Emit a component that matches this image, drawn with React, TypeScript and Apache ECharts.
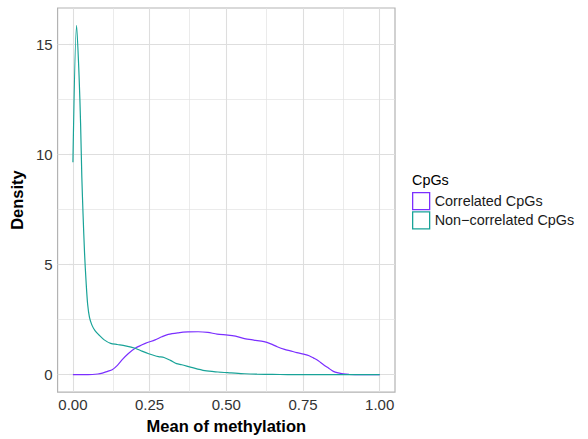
import React, { useEffect, useRef } from "react";
import * as echarts from "echarts";

// Density estimates of mean methylation, read along x in [0, 1]
const correlatedX = [0, 0.05, 0.081, 0.096, 0.113, 0.128, 0.145, 0.16, 0.18, 0.203, 0.236, 0.268, 0.29, 0.311, 0.343, 0.375, 0.408, 0.44, 0.47, 0.505, 0.53, 0.559, 0.59, 0.623, 0.645, 0.666, 0.69, 0.709, 0.73, 0.752, 0.77, 0.785, 0.8, 0.817, 0.833, 0.849, 0.865, 0.881, 0.9, 0.92, 0.95, 1.0];
const correlatedY = [0, 0, 0.03, 0.07, 0.15, 0.22, 0.42, 0.67, 0.95, 1.2, 1.42, 1.58, 1.72, 1.83, 1.9, 1.94, 1.95, 1.92, 1.84, 1.8, 1.75, 1.64, 1.57, 1.5, 1.4, 1.27, 1.15, 1.08, 1.0, 0.93, 0.86, 0.75, 0.63, 0.45, 0.3, 0.15, 0.08, 0.04, 0.015, 0.005, 0, 0];

const nonCorrelatedX = [0, 0.012, 0.02, 0.025, 0.029, 0.033, 0.038, 0.043, 0.048, 0.054, 0.062, 0.072, 0.085, 0.102, 0.123, 0.145, 0.171, 0.203, 0.225, 0.247, 0.265, 0.279, 0.297, 0.318, 0.338, 0.355, 0.386, 0.43, 0.473, 0.516, 0.56, 0.6, 0.65, 0.7, 0.8, 0.9, 1.0];
const nonCorrelatedY = [9.65, 15.87, 13.6, 11.4, 9.0, 7.3, 5.5, 4.2, 3.2, 2.6, 2.25, 2.0, 1.8, 1.58, 1.42, 1.37, 1.31, 1.2, 1.07, 0.95, 0.87, 0.82, 0.78, 0.65, 0.5, 0.45, 0.33, 0.18, 0.12, 0.08, 0.04, 0.02, 0.01, 0.004, 0, 0, 0];

const seriesNames = ["Correlated CpGs", "Non\u2212correlated CpGs"];
const seriesColors = ["#7B2FFF", "#19A398"];
const legendTitle = "CpGs";

// Axis breaks
const xMajor = [0, 0.25, 0.5, 0.75, 1];
const xMinor = [0.125, 0.375, 0.625, 0.875];
const yMajor = [0, 5, 10, 15];
const yMinor = [2.5, 7.5, 12.5];
const xLabels = ["0.00", "0.25", "0.50", "0.75", "1.00"];

const FONT = "'Liberation Sans', Arial, Helvetica, sans-serif";

function pairs(xs: number[], ys: number[]) {
  return xs.map((x, i) => [x, ys[i]]);
}

export default function App() {
  const ref = useRef<HTMLDivElement>(null);

  useEffect(() => {
    if (!ref.current) return;
    const chart = echarts.init(ref.current, undefined, { renderer: "svg" });

    // 5% expansion of the data range on both axes
    const allY = correlatedY.concat(nonCorrelatedY);
    const yLo = Math.min(...allY);
    const yHi = Math.max(...allY);
    const yPad = (yHi - yLo) * 0.05;
    const xLo = 0;
    const xHi = 1;
    const xPad = (xHi - xLo) * 0.05;

    const gridLine = (axis: "xAxis" | "yAxis", v: number, width: number, color: string) => ({
      [axis]: v,
      lineStyle: { color, width, type: "solid" },
    });

    const option: any = {
      animation: false,
      backgroundColor: "#ffffff",
      textStyle: { fontFamily: FONT },
      grid: {
        left: 54,
        top: 8,
        right: 193,
        bottom: 44,
        show: true,
        borderColor: "#b3b3b3",
        borderWidth: 1.2,
        backgroundColor: "transparent",
        containLabel: false,
      },
      xAxis: {
        type: "value",
        min: xLo - xPad,
        max: xHi + xPad,
        name: "Mean of methylation",
        nameLocation: "middle",
        nameGap: 21,
        nameTextStyle: { fontSize: 16.5, fontWeight: "bold", color: "#000", fontFamily: FONT },
        axisLine: { show: false },
        splitLine: { show: false },
        axisTick: {
          show: true,
          length: 4,
          customValues: xMajor,
          lineStyle: { color: "#b3b3b3", width: 1.1 },
        },
        axisLabel: {
          customValues: xMajor,
          formatter: (v: number) => xLabels[xMajor.findIndex((m) => Math.abs(m - v) < 1e-9)] ?? "",
          fontSize: 15,
          color: "#333333",
          margin: 5,
          fontFamily: FONT,
        },
      },
      yAxis: {
        type: "value",
        min: yLo - yPad,
        max: yHi + yPad,
        name: "Density",
        nameLocation: "middle",
        nameGap: 20,
        nameRotate: 90,
        nameTextStyle: { fontSize: 16.5, fontWeight: "bold", color: "#000", fontFamily: FONT },
        axisLine: { show: false },
        splitLine: { show: false },
        axisTick: {
          show: true,
          length: 4,
          customValues: yMajor,
          lineStyle: { color: "#b3b3b3", width: 1.1 },
        },
        axisLabel: {
          customValues: yMajor,
          formatter: (v: number) => String(Math.round(v)),
          fontSize: 15,
          color: "#333333",
          margin: 5,
          fontFamily: FONT,
        },
      },
      legend: {
        orient: "vertical",
        left: 412,
        top: 192,
        padding: 0,
        itemWidth: 17,
        itemHeight: 17,
        itemGap: 1,
        icon: "rect",
        selectedMode: false,
        textStyle: { fontSize: 14.4, color: "#1a1a1a", fontFamily: FONT },
        data: seriesNames.map((name, i) => ({
          name,
          icon: "rect",
          itemStyle: { color: "#ffffff", borderColor: seriesColors[i], borderWidth: 1.3 },
        })),
      },
      graphic: [
        {
          type: "text",
          left: 412,
          top: 173,
          style: { text: legendTitle, fontSize: 14.4, fill: "#000", font: `14.4px ${FONT}` },
        },
      ],
      series: [
        {
          name: "__grid",
          type: "line",
          data: [[0, 0]],
          symbol: "none",
          silent: true,
          z: 1,
          lineStyle: { opacity: 0 },
          markLine: {
            silent: true,
            symbol: "none",
            label: { show: false },
            animation: false,
            data: [
              ...xMinor.map((v) => gridLine("xAxis", v, 0.7, "#e3e3e3")),
              ...yMinor.map((v) => gridLine("yAxis", v, 0.7, "#e3e3e3")),
              ...xMajor.map((v) => gridLine("xAxis", v, 1.1, "#dedede")),
              ...yMajor.map((v) => gridLine("yAxis", v, 1.1, "#dedede")),
            ],
          },
        },
        {
          name: seriesNames[0],
          type: "line",
          data: pairs(correlatedX, correlatedY),
          symbol: "none",
          smooth: 0.3,
          z: 5,
          color: seriesColors[0],
          lineStyle: { color: seriesColors[0], width: 1.2 },
        },
        {
          name: seriesNames[1],
          type: "line",
          data: pairs(nonCorrelatedX, nonCorrelatedY),
          symbol: "none",
          smooth: 0.3,
          z: 6,
          color: seriesColors[1],
          lineStyle: { color: seriesColors[1], width: 1.2 },
        },
      ],
    };

    chart.setOption(option);
    return () => chart.dispose();
  }, []);

  return (
    <div
      ref={ref}
      style={{ position: "absolute", left: 0, top: 0, width: 588, height: 439, background: "#fff" }}
    />
  );
}
